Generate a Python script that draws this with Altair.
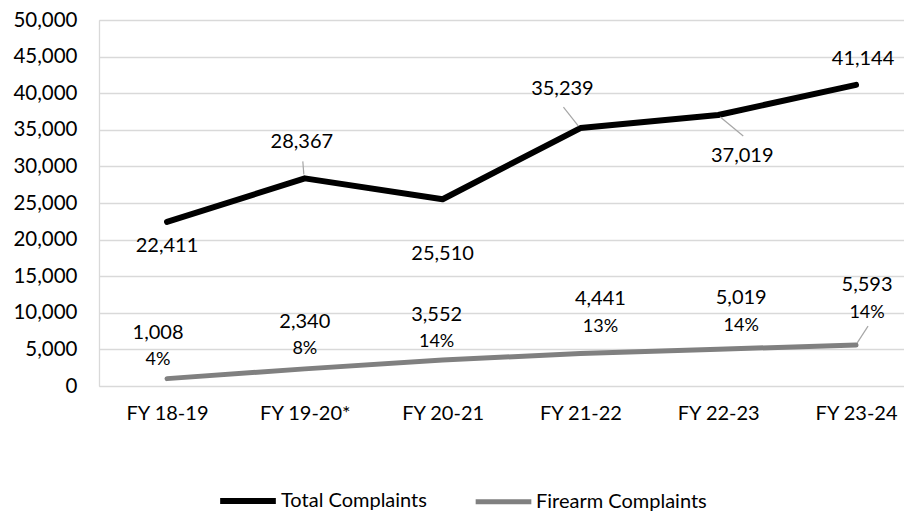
import json
import altair as alt
import pandas as pd

categories = ["FY 18-19", "FY 19-20*", "FY 20-21", "FY 21-22", "FY 22-23", "FY 23-24"]
series_names = ["Total Complaints", "Firearm Complaints"]
total = [22411, 28367, 25510, 35239, 37019, 41144]
firearm = [1008, 2340, 3552, 4441, 5019, 5593]
firearm_pct = ["4%", "8%", "14%", "13%", "14%", "14%"]

# label placement (pixel offsets from the point)
total_label_offsets = [(0, 24), (-3, -36), (0, 55), (-18, -39), (24, 41), (7, -26)]
firearm_label_offsets = [(-9, -46), (0, -47), (-6, -45), (20, -54), (23, -51), (11, -60)]
pct_gap = 27.5
# leader lines: (series, index, start offset px, end offset px)
leaders = [
    ("Total Complaints", 1, (-1, -4), (-2, -17)),
    ("Total Complaints", 3, (-2, -2), (-17, -21)),
    ("Total Complaints", 4, (2, 2), (25, 21)),
    ("Firearm Complaints", 5, (1, -2), (12, -19)),
]

W, H = 805, 366
XDOM = [-0.4935, 5.348]
YDOM = [0, 50000]
px_per_x = W / (XDOM[1] - XDOM[0])
px_per_y = H / (YDOM[1] - YDOM[0])

FONT = "Lato"
TXT = "#000000"

rows = []
for i, c in enumerate(categories):
    rows.append({"idx": i, "cat": c, "series": series_names[0], "value": total[i], "pct": ""})
    rows.append({"idx": i, "cat": c, "series": series_names[1], "value": firearm[i], "pct": firearm_pct[i]})
df = pd.DataFrame(rows)

label_expr = "%s[datum.value]" % json.dumps(categories)

x_enc = alt.X("idx:Q", scale=alt.Scale(domain=XDOM, nice=False, zero=False),
              axis=alt.Axis(values=list(range(len(categories))), labelExpr=label_expr,
                            grid=False, domain=False, ticks=False, labelPadding=17,
                            labelFontSize=20, labelColor=TXT, labelFont=FONT,
                            labelFlush=False, labelOverlap=False, title=None))
y_enc = alt.Y("value:Q", scale=alt.Scale(domain=YDOM, nice=False),
              axis=alt.Axis(values=list(range(0, 50001, 5000)), format=",d",
                            grid=True, gridColor="#D9D9D9", gridWidth=1.3,
                            domain=True, domainColor="#D9D9D9", domainWidth=1.3,
                            ticks=False, labelPadding=22, labelFontSize=20.5,
                            labelOverlap=False, labelFlush=False,
                            labelColor=TXT, labelFont=FONT, title=None))

base = alt.Chart(df)

lines = base.mark_line(strokeCap="round", strokeJoin="round").encode(
    x=x_enc, y=y_enc,
    color=alt.Color("series:N", scale=alt.Scale(domain=series_names, range=["#000000", "#808080"]),
                    legend=alt.Legend(title=None, orient="none", legendX=118, legendY=450,
                                      direction="horizontal", symbolType="stroke",
                                      symbolStrokeWidth=5.5, symbolSize=3100,
                                      labelFontSize=20, labelFont=FONT, labelColor=TXT,
                                      labelLimit=400,
                                      labelOffset=2, columnPadding=38, padding=0)),
    strokeWidth=alt.StrokeWidth("series:N", scale=alt.Scale(domain=series_names, range=[6, 5]), legend=None),
)

layers = [lines]

# leader lines
lead_rows = []
for s, i, st, en in leaders:
    v = total[i] if s == series_names[0] else firearm[i]
    lead_rows.append({
        "idx": i + st[0] / px_per_x, "value": v - st[1] / px_per_y,
        "idx2": i + en[0] / px_per_x, "value2": v - en[1] / px_per_y,
    })
lead_df = pd.DataFrame(lead_rows)
layers.append(alt.Chart(lead_df).mark_rule(color="#A6A6A6", strokeWidth=1.2).encode(
    x=x_enc, y=y_enc, x2="idx2:Q", y2="value2:Q"))

for i in range(len(categories)):
    dx, dy = total_label_offsets[i]
    layers.append(base.transform_filter(
        (alt.datum.idx == i) & (alt.datum.series == series_names[0])
    ).mark_text(dx=dx, dy=dy, fontSize=20, font=FONT, color=TXT, baseline="middle").encode(
        x=x_enc, y=y_enc, text=alt.Text("value:Q", format=",")))
    dx, dy = firearm_label_offsets[i]
    layers.append(base.transform_filter(
        (alt.datum.idx == i) & (alt.datum.series == series_names[1])
    ).mark_text(dx=dx, dy=dy, fontSize=20, font=FONT, color=TXT, baseline="middle").encode(
        x=x_enc, y=y_enc, text=alt.Text("value:Q", format=",")))
    layers.append(base.transform_filter(
        (alt.datum.idx == i) & (alt.datum.series == series_names[1])
    ).mark_text(dx=dx, dy=dy + pct_gap, fontSize=18, font=FONT, color=TXT, baseline="middle").encode(
        x=x_enc, y=y_enc, text="pct:N"))

chart = alt.layer(*layers).properties(
    width=W, height=H,
    autosize=alt.AutoSizeParams(type="none"),
    padding={"left": 91, "top": 12, "right": 0, "bottom": 127},
    background="white",
).configure_view(stroke=None).configure(font=FONT)

chart.save("out.html", embed_options={"renderer": "svg", "actions": False})
